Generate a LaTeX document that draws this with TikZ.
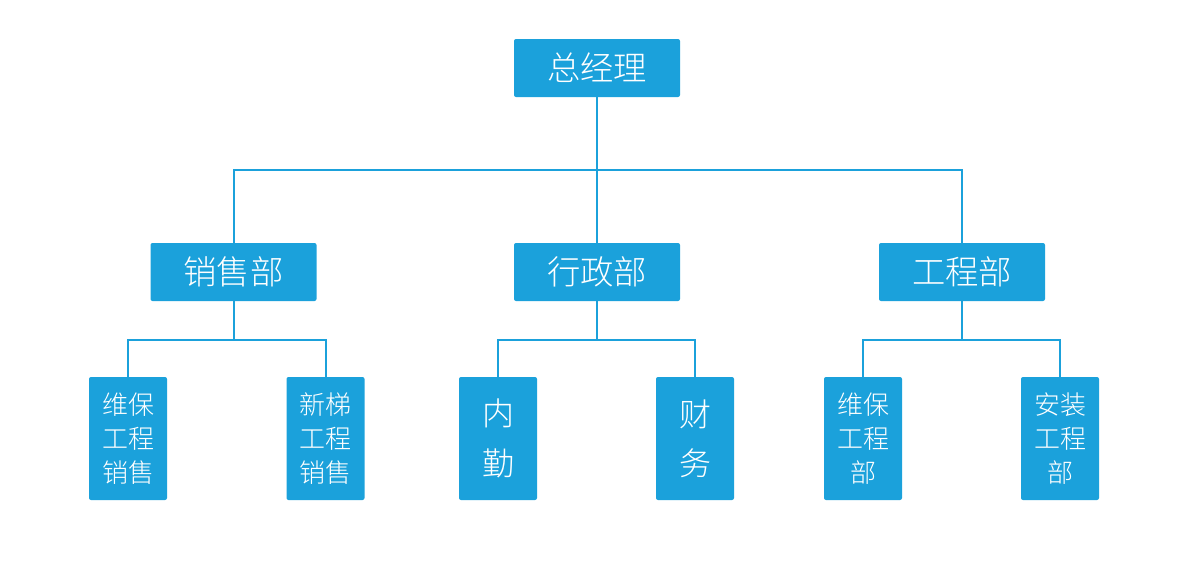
\documentclass[tikz,border=0pt]{standalone}
\usepackage{fontspec}
\newfontfamily\cjk{Noto Sans CJK SC Light}
\definecolor{boxblue}{HTML}{1BA1DB}
\begin{document}
\begin{tikzpicture}[x=0.75pt,y=-0.75pt,
  box/.style={fill=boxblue,draw=none,rounded corners=1.5pt,text=white,inner sep=0pt,font=\cjk},
  topbox/.style={box,minimum width=166*0.75pt,minimum height=58*0.75pt,font=\cjk\fontsize{25}{30}\selectfont},
  leafbox/.style={box,minimum width=78*0.75pt,minimum height=123*0.75pt,align=center,font=\cjk\fontsize{19.5}{25.5}\selectfont},
  bigleaf/.style={box,minimum width=78*0.75pt,minimum height=123*0.75pt,align=center,font=\cjk\fontsize{24}{37}\selectfont},
  link/.style={draw=boxblue,line width=1.5pt}]
\useasboundingbox (0,0) rectangle (1182,568);
\node[topbox] (gm) at (597,68) {总经理};
\node[topbox] (sales) at (233.5,272) {销售部};
\node[topbox] (admin) at (597,272) {行政部};
\node[topbox] (eng) at (962,272) {工程部};
\node[leafbox] (s1) at (128,438.5) {维保\\工程\\销售};
\node[leafbox] (s2) at (325.5,438.5) {新梯\\工程\\销售};
\node[bigleaf] (a1) at (498,438.5) {内\\勤};
\node[bigleaf] (a2) at (695,438.5) {财\\务};
\node[leafbox] (e1) at (863,438.5) {维保\\工程\\部};
\node[leafbox] (e2) at (1060,438.5) {安装\\工程\\部};
\coordinate (j0) at (597,170);
\coordinate (j1) at (233.5,340);
\coordinate (j2) at (597,340);
\coordinate (j3) at (962,340);
\draw[link] (gm.south) -- (j0);
\draw[link] (sales.north) |- (j0) -| (eng.north);
\draw[link] (j0) -- (admin.north);
\draw[link] (sales.south) -- (j1);
\draw[link] (s1.north) |- (j1) -| (s2.north);
\draw[link] (admin.south) -- (j2);
\draw[link] (a1.north) |- (j2) -| (a2.north);
\draw[link] (eng.south) -- (j3);
\draw[link] (e1.north) |- (j3) -| (e2.north);
\end{tikzpicture}
\end{document}
